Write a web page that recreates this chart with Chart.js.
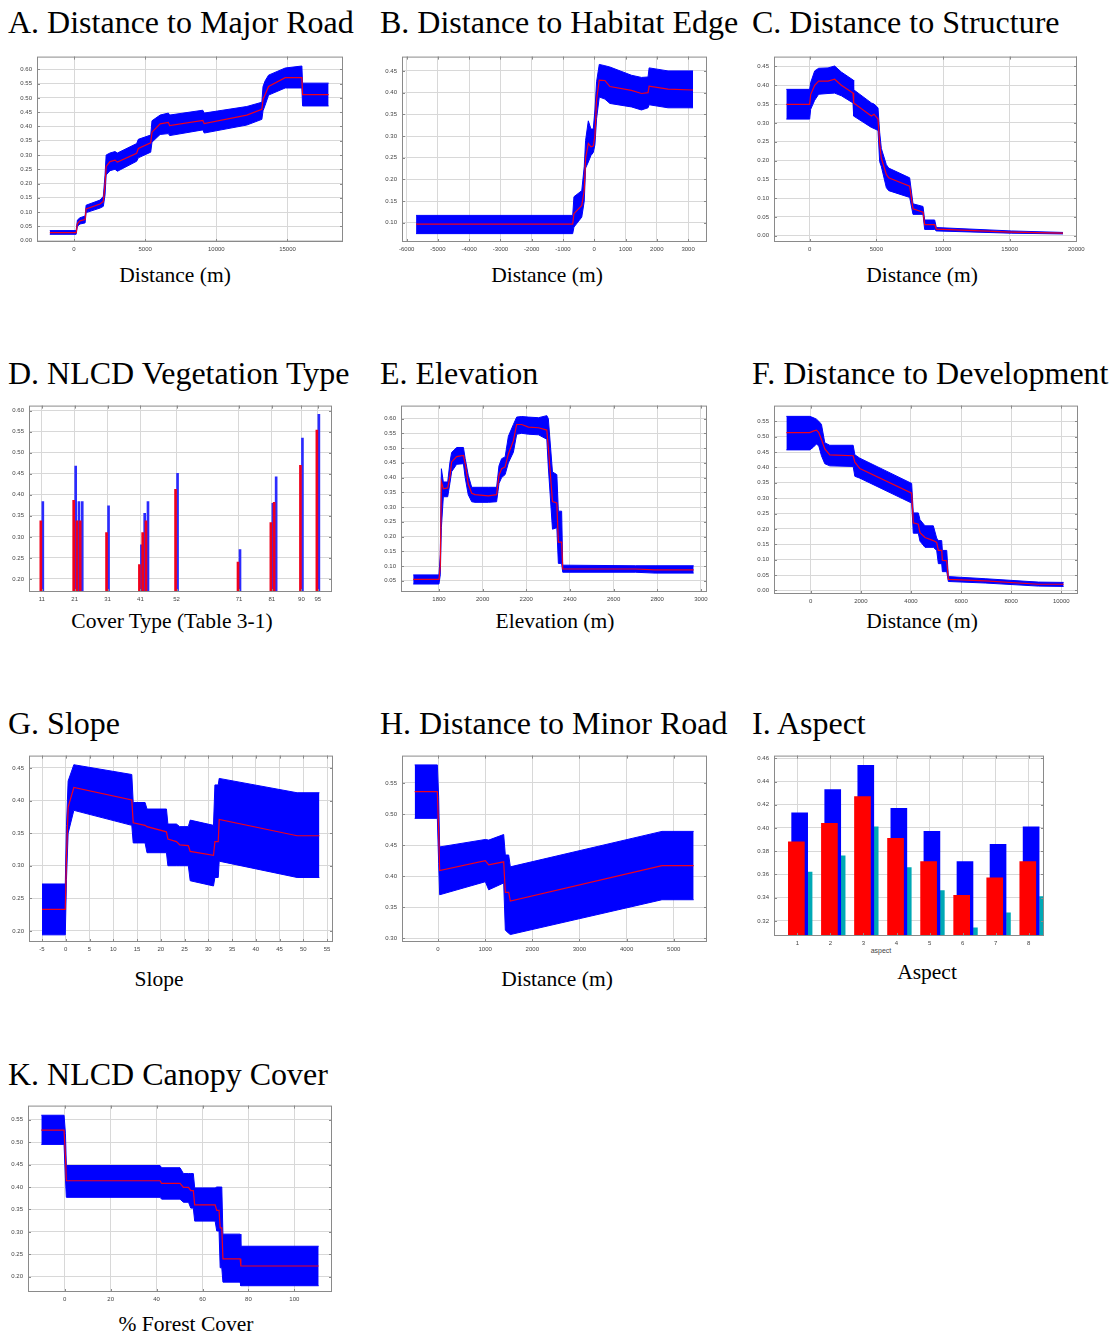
<!DOCTYPE html>
<html>
<head>
<meta charset="utf-8">
<script src="https://cdn.jsdelivr.net/npm/chart.js@4.4.1/dist/chart.umd.min.js"></script>
<style>
  body {
    margin: 0;
    background: #fff;
    width: 1115px;
    height: 1334px;
    position: relative;
    overflow: hidden;
    font-family: "Liberation Serif", "Times New Roman", serif;
    color: #000;
  }
  .title { position: absolute; font-size: 32px; line-height: 32px; white-space: nowrap; }
  .xlab { position: absolute; font-size: 21.5px; line-height: 21px; white-space: nowrap; transform: translateX(-50%); }
  .small { position: absolute; font: 7px "Liberation Sans", Arial, sans-serif; color: #444; transform: translateX(-50%); }
  canvas { position: absolute; }
</style>
</head>
<body>
<div class="title" style="left:8px;top:6px">A. Distance to Major Road</div>
<div class="title" style="left:380px;top:6px">B. Distance to Habitat Edge</div>
<div class="title" style="left:752px;top:6px">C. Distance to Structure</div>
<div class="title" style="left:8px;top:357px">D. NLCD Vegetation Type</div>
<div class="title" style="left:380px;top:357px">E. Elevation</div>
<div class="title" style="left:752px;top:357px">F. Distance to Development</div>
<div class="title" style="left:8px;top:707px">G. Slope</div>
<div class="title" style="left:380px;top:707px">H. Distance to Minor Road</div>
<div class="title" style="left:752px;top:707px">I. Aspect</div>
<div class="title" style="left:8px;top:1058px">K. NLCD Canopy Cover</div>

<div class="xlab" style="left:175px;top:265px">Distance (m)</div>
<div class="xlab" style="left:547px;top:265px">Distance (m)</div>
<div class="xlab" style="left:922px;top:265px">Distance (m)</div>
<div class="xlab" style="left:172px;top:611px">Cover Type (Table 3-1)</div>
<div class="xlab" style="left:555px;top:611px">Elevation (m)</div>
<div class="xlab" style="left:922px;top:611px">Distance (m)</div>
<div class="xlab" style="left:159px;top:969px">Slope</div>
<div class="xlab" style="left:557px;top:969px">Distance (m)</div>
<div class="xlab" style="left:927px;top:962px">Aspect</div>
<div class="xlab" style="left:186px;top:1314px">% Forest Cover</div>
<div class="small" style="left:881px;top:947px">aspect</div>

<script>
// A. distance to major road
const A_X = [-1700, 150, 240, 420, 780, 850, 1830, 2060, 2180, 2260, 2530, 2880, 3050, 4400, 4520, 5390, 5480, 6050, 6630, 6720, 9050, 9150, 12140, 13200, 13280, 13430, 13670, 14840, 16010, 16060, 17890];
const A_MEAN = [0.028, 0.028, 0.060, 0.069, 0.074, 0.111, 0.128, 0.137, 0.197, 0.260, 0.277, 0.282, 0.275, 0.306, 0.323, 0.343, 0.380, 0.409, 0.414, 0.403, 0.421, 0.410, 0.440, 0.460, 0.495, 0.512, 0.540, 0.571, 0.571, 0.512, 0.512];
const A_LO = [0.022, 0.022, 0.050, 0.058, 0.062, 0.098, 0.114, 0.120, 0.160, 0.230, 0.245, 0.250, 0.243, 0.278, 0.290, 0.310, 0.345, 0.372, 0.375, 0.368, 0.388, 0.377, 0.405, 0.425, 0.455, 0.475, 0.510, 0.535, 0.535, 0.472, 0.472];
const A_HI = [0.035, 0.035, 0.072, 0.080, 0.086, 0.124, 0.142, 0.155, 0.230, 0.300, 0.307, 0.312, 0.307, 0.340, 0.355, 0.370, 0.420, 0.440, 0.447, 0.440, 0.457, 0.447, 0.470, 0.485, 0.540, 0.560, 0.580, 0.605, 0.612, 0.552, 0.552];
const A_XTICKS = [0, 5000, 10000, 15000];
const A_YTICKS = [0, 0.05, 0.1, 0.15, 0.2, 0.25, 0.3, 0.35, 0.4, 0.45, 0.5, 0.55, 0.6];

// B. distance to habitat edge
const B_X = [-5700, -690, -650, -400, -320, -277, -190, -106, -32, 21, 74, 160, 340, 500, 1190, 1510, 1720, 1755, 2360, 3160];
const B_MEAN = [0.097, 0.097, 0.121, 0.140, 0.175, 0.249, 0.283, 0.275, 0.277, 0.300, 0.384, 0.429, 0.428, 0.414, 0.405, 0.398, 0.400, 0.415, 0.408, 0.406];
const B_LO = [0.075, 0.075, 0.090, 0.113, 0.150, 0.226, 0.240, 0.255, 0.262, 0.280, 0.340, 0.390, 0.385, 0.375, 0.367, 0.360, 0.365, 0.372, 0.365, 0.365];
const B_HI = [0.117, 0.117, 0.160, 0.174, 0.230, 0.290, 0.335, 0.316, 0.316, 0.360, 0.425, 0.465, 0.462, 0.459, 0.440, 0.435, 0.436, 0.457, 0.450, 0.450];
const B_XTICKS = [-6000, -5000, -4000, -3000, -2000, -1000, 0, 1000, 2000, 3000];
const B_YTICKS = [0.1, 0.15, 0.2, 0.25, 0.3, 0.35, 0.4, 0.45];

// C. distance to structure
const C_X = [-1750, 0, 75, 375, 675, 1375, 1875, 2375, 3250, 3300, 4625, 4825, 5125, 5250, 5375, 5750, 5925, 7500, 7750, 8500, 8625, 9375, 9500, 15125, 19000];
const C_MEAN = [0.349, 0.349, 0.375, 0.400, 0.411, 0.411, 0.416, 0.400, 0.379, 0.353, 0.318, 0.323, 0.310, 0.245, 0.206, 0.163, 0.154, 0.132, 0.072, 0.063, 0.030, 0.030, 0.018, 0.010, 0.007];
const C_LO = [0.310, 0.310, 0.336, 0.360, 0.376, 0.378, 0.379, 0.372, 0.353, 0.318, 0.288, 0.285, 0.280, 0.197, 0.184, 0.128, 0.120, 0.102, 0.057, 0.057, 0.017, 0.017, 0.013, 0.007, 0.005];
const C_HI = [0.389, 0.389, 0.407, 0.438, 0.445, 0.446, 0.451, 0.435, 0.414, 0.388, 0.353, 0.350, 0.340, 0.275, 0.232, 0.189, 0.180, 0.154, 0.085, 0.078, 0.042, 0.042, 0.022, 0.013, 0.009];
const C_XTICKS = [0, 5000, 10000, 15000, 20000];
const C_YTICKS = [0, 0.05, 0.1, 0.15, 0.2, 0.25, 0.3, 0.35, 0.4, 0.45];

// D. NLCD vegetation type (bars)
const D_CODES = [11, 21, 22, 23, 31, 41, 42, 43, 52, 71, 81, 82, 90, 95];
const D_MEAN = [0.338, 0.387, 0.338, 0.338, 0.310, 0.234, 0.310, 0.338, 0.413, 0.240, 0.334, 0.382, 0.470, 0.554];
const D_UPPER = [0.384, 0.468, 0.384, 0.384, 0.374, 0.281, 0.356, 0.384, 0.451, 0.270, 0.380, 0.443, 0.535, 0.591];
const D_XTICKS = [11, 21, 31, 41, 52, 71, 81, 90, 95];
const D_YTICKS = [0.2, 0.25, 0.3, 0.35, 0.4, 0.45, 0.5, 0.55, 0.6];

// E. elevation
const E_X = [1682, 1800, 1806, 1811, 1820, 1840, 1850, 1858, 1881, 1912, 1920, 1934, 1950, 1965, 2026, 2064, 2075, 2087, 2103, 2118, 2141, 2156, 2179, 2210, 2256, 2294, 2301, 2320, 2340, 2347, 2362, 2367, 2700, 2790, 2967];
const E_MEAN = [0.055, 0.055, 0.100, 0.386, 0.362, 0.365, 0.403, 0.453, 0.471, 0.475, 0.447, 0.378, 0.347, 0.342, 0.338, 0.342, 0.408, 0.430, 0.436, 0.480, 0.525, 0.580, 0.580, 0.571, 0.569, 0.561, 0.502, 0.319, 0.314, 0.181, 0.181, 0.090, 0.090, 0.087, 0.087];
const E_LO = [0.039, 0.039, 0.070, 0.230, 0.335, 0.335, 0.380, 0.420, 0.445, 0.447, 0.400, 0.342, 0.318, 0.316, 0.316, 0.318, 0.380, 0.400, 0.410, 0.450, 0.486, 0.547, 0.550, 0.547, 0.545, 0.530, 0.436, 0.225, 0.230, 0.109, 0.109, 0.079, 0.079, 0.076, 0.076];
const E_HI = [0.070, 0.070, 0.140, 0.430, 0.385, 0.385, 0.450, 0.485, 0.502, 0.502, 0.465, 0.408, 0.367, 0.367, 0.367, 0.367, 0.440, 0.464, 0.470, 0.540, 0.580, 0.605, 0.607, 0.605, 0.603, 0.610, 0.600, 0.419, 0.410, 0.286, 0.286, 0.103, 0.101, 0.101, 0.101];
const E_XTICKS = [1800, 2000, 2200, 2400, 2600, 2800, 3000];
const E_YTICKS = [0.05, 0.1, 0.15, 0.2, 0.25, 0.3, 0.35, 0.4, 0.45, 0.5, 0.55, 0.6];

// F. distance to development
const F_X = [-973, -40, 93, 227, 320, 427, 560, 760, 1693, 1760, 1960, 4027, 4093, 4293, 4360, 4560, 4893, 5027, 5093, 5227, 5253, 5427, 5493, 6960, 9093, 10093];
const F_MEAN = [0.513, 0.513, 0.518, 0.521, 0.513, 0.491, 0.460, 0.441, 0.438, 0.417, 0.396, 0.316, 0.220, 0.215, 0.188, 0.172, 0.162, 0.156, 0.130, 0.130, 0.098, 0.096, 0.036, 0.031, 0.020, 0.020];
const F_LO = [0.457, 0.457, 0.465, 0.476, 0.470, 0.438, 0.412, 0.405, 0.403, 0.371, 0.365, 0.284, 0.186, 0.186, 0.160, 0.140, 0.140, 0.130, 0.087, 0.087, 0.061, 0.061, 0.029, 0.024, 0.014, 0.013];
const F_HI = [0.566, 0.566, 0.562, 0.557, 0.550, 0.540, 0.480, 0.472, 0.472, 0.441, 0.430, 0.348, 0.252, 0.252, 0.230, 0.210, 0.210, 0.170, 0.162, 0.162, 0.130, 0.130, 0.045, 0.038, 0.027, 0.026];
const F_XTICKS = [0, 2000, 4000, 6000, 8000, 10000];
const F_YTICKS = [0, 0.05, 0.1, 0.15, 0.2, 0.25, 0.3, 0.35, 0.4, 0.45, 0.5, 0.55];

// G. slope
const G_X = [-5, -0.1, 0.15, 0.5, 1.7, 13.9, 14.2, 16.7, 17.1, 21.2, 21.5, 23.3, 24.0, 25.8, 26.2, 31.1, 31.4, 32.1, 32.3, 48.7, 53.4];
const G_MEAN = [0.233, 0.233, 0.314, 0.390, 0.420, 0.401, 0.366, 0.362, 0.360, 0.352, 0.341, 0.337, 0.332, 0.331, 0.322, 0.316, 0.337, 0.337, 0.371, 0.346, 0.346];
const G_LO = [0.194, 0.194, 0.279, 0.350, 0.385, 0.362, 0.335, 0.335, 0.320, 0.320, 0.300, 0.300, 0.300, 0.300, 0.277, 0.269, 0.282, 0.282, 0.307, 0.282, 0.282];
const G_HI = [0.272, 0.272, 0.362, 0.430, 0.455, 0.440, 0.397, 0.397, 0.387, 0.387, 0.364, 0.364, 0.360, 0.360, 0.370, 0.362, 0.424, 0.424, 0.434, 0.412, 0.412];
const G_XTICKS = [-5, 0, 5, 10, 15, 20, 25, 30, 35, 40, 45, 50, 55];
const G_YTICKS = [0.2, 0.25, 0.3, 0.35, 0.4, 0.45];

// H. distance to minor road
const H_X = [-495, -14, 14, 35, 1004, 1075, 1393, 1428, 1499, 1534, 4751, 5423];
const H_MEAN = [0.536, 0.536, 0.470, 0.409, 0.425, 0.418, 0.423, 0.374, 0.374, 0.360, 0.417, 0.417];
const H_LO = [0.493, 0.493, 0.420, 0.370, 0.391, 0.378, 0.389, 0.313, 0.308, 0.306, 0.362, 0.362];
const H_HI = [0.579, 0.579, 0.526, 0.447, 0.459, 0.458, 0.467, 0.434, 0.434, 0.415, 0.472, 0.472];
const H_XTICKS = [0, 1000, 2000, 3000, 4000, 5000];
const H_YTICKS = [0.3, 0.35, 0.4, 0.45, 0.5, 0.55];

// I. aspect (bars)
const I_ASPECT = [1, 2, 3, 4, 5, 6, 7, 8];
const I_UPPER = [0.413, 0.433, 0.454, 0.417, 0.397, 0.371, 0.386, 0.401];
const I_MEAN = [0.388, 0.404, 0.427, 0.391, 0.371, 0.342, 0.357, 0.371];
const I_LOWER = [0.362, 0.376, 0.401, 0.366, 0.346, 0.314, 0.327, 0.341];
const I_XTICKS = [1, 2, 3, 4, 5, 6, 7, 8];
const I_YTICKS = [0.32, 0.34, 0.36, 0.38, 0.4, 0.42, 0.44, 0.46];

// K. NLCD canopy cover
const K_X = [-10.2, -0.3, 0.3, 0.7, 41.5, 42.2, 50.2, 51.7, 53.9, 54.9, 56.0, 56.6, 65.5, 66.2, 67.2, 67.7, 68.4, 68.9, 76.4, 76.7, 110.6];
const K_MEAN = [0.527, 0.527, 0.470, 0.414, 0.414, 0.408, 0.408, 0.399, 0.399, 0.392, 0.392, 0.360, 0.360, 0.348, 0.348, 0.309, 0.309, 0.240, 0.240, 0.224, 0.224];
const K_LO = [0.495, 0.495, 0.420, 0.377, 0.377, 0.373, 0.373, 0.366, 0.366, 0.353, 0.353, 0.324, 0.324, 0.302, 0.302, 0.220, 0.220, 0.188, 0.188, 0.180, 0.180];
const K_HI = [0.560, 0.560, 0.520, 0.448, 0.448, 0.443, 0.443, 0.430, 0.430, 0.430, 0.430, 0.398, 0.398, 0.400, 0.400, 0.400, 0.400, 0.295, 0.295, 0.268, 0.268];
const K_XTICKS = [0, 20, 40, 60, 80, 100];
const K_YTICKS = [0.2, 0.25, 0.3, 0.35, 0.4, 0.45, 0.5, 0.55];

const BLUE = "#0000ff";
const RED = "#f0001c";
const CYAN = "#00a9b5";

// plot boxes on the page, px
const PAD_L = 40, PAD_T = 5, PAD_R = 14, AX_H = 16;

function makeCanvas(box) {
  const c = document.createElement("canvas");
  c.width = box.r - box.l + PAD_L + PAD_R;
  c.height = box.b - box.t + PAD_T + AX_H;
  c.style.left = box.l - PAD_L + "px";
  c.style.top = box.t - PAD_T + "px";
  document.body.appendChild(c);
  return c;
}

// matlab style box with little inner tick marks
const framePlugin = {
  id: "frame",
  afterDraw(chart) {
    const { ctx, chartArea: a, scales } = chart;
    ctx.save();
    ctx.strokeStyle = "#8a8a8a";
    ctx.lineWidth = 1;
    ctx.strokeRect(a.left + 0.5, a.top + 0.5, a.right - a.left - 1, a.bottom - a.top - 1);
    ctx.beginPath();
    scales.x.ticks.forEach((t) => {
      const x = Math.round(scales.x.getPixelForValue(t.value)) + 0.5;
      ctx.moveTo(x, a.bottom); ctx.lineTo(x, a.bottom - 3);
      ctx.moveTo(x, a.top); ctx.lineTo(x, a.top + 3);
    });
    scales.y.ticks.forEach((t) => {
      const y = Math.round(scales.y.getPixelForValue(t.value)) + 0.5;
      ctx.moveTo(a.left, y); ctx.lineTo(a.left + 3, y);
      ctx.moveTo(a.right, y); ctx.lineTo(a.right - 3, y);
    });
    ctx.stroke();
    ctx.restore();
  },
};

const tickFont = { family: "'Liberation Sans', Arial, sans-serif", size: 6 };

function axes(xr, yr, xticks, yticks) {
  return {
    x: {
      type: "linear", min: xr[0], max: xr[1], offset: false,
      afterBuildTicks: (s) => { s.ticks = xticks.map((v) => ({ value: v })); },
      afterFit: (s) => { s.height = AX_H; },
      grid: { color: "#d8d8d8", drawTicks: false, offset: false },
      border: { display: false },
      ticks: { font: tickFont, color: "#444", padding: 4, maxRotation: 0, autoSkip: false, callback: (v) => String(v) },
    },
    y: {
      type: "linear", min: yr[0], max: yr[1], beginAtZero: false,
      afterBuildTicks: (s) => { s.ticks = yticks.map((v) => ({ value: v })); },
      afterFit: (s) => { s.width = PAD_L; },
      grid: { color: "#d8d8d8", drawTicks: false },
      border: { display: false },
      ticks: { font: tickFont, color: "#444", padding: 5, autoSkip: false, callback: (v) => v.toFixed(2) },
    },
  };
}

function baseOptions(xr, yr, xticks, yticks) {
  return {
    responsive: false,
    animation: false,
    events: [],
    layout: { padding: { left: 0, top: PAD_T, right: PAD_R, bottom: 0 } },
    plugins: { legend: { display: false }, tooltip: { enabled: false } },
    scales: axes(xr, yr, xticks, yticks),
  };
}

function bandChart(box, X, MEAN, LO, HI, xr, yr, xticks, yticks) {
  const pts = (ys) => X.map((x, i) => ({ x, y: ys[i] }));
  new Chart(makeCanvas(box), {
    type: "line",
    data: {
      datasets: [
        { data: pts(LO), borderColor: BLUE, borderWidth: 1, pointRadius: 0, fill: false, order: 3 },
        { data: pts(HI), borderColor: BLUE, borderWidth: 1, pointRadius: 0, fill: "-1", backgroundColor: BLUE, order: 2 },
        { data: pts(MEAN), borderColor: RED, borderWidth: 1.2, pointRadius: 0, fill: false, order: 1 },
      ],
    },
    options: baseOptions(xr, yr, xticks, yticks),
    plugins: [framePlugin],
  });
}

bandChart({ l: 37, t: 53, r: 343, b: 242 }, A_X, A_MEAN, A_LO, A_HI, [-2600, 18900], [-0.005, 0.645], A_XTICKS, A_YTICKS);
bandChart({ l: 402, t: 53, r: 707, b: 242 }, B_X, B_MEAN, B_LO, B_HI, [-6150, 3606], [0.0557, 0.483], B_XTICKS, B_YTICKS);
bandChart({ l: 774, t: 53, r: 1077, b: 242 }, C_X, C_MEAN, C_LO, C_HI, [-2675, 20050], [-0.0164, 0.476], C_XTICKS, C_YTICKS);
bandChart({ l: 401, t: 402, r: 707, b: 592 }, E_X, E_MEAN, E_LO, E_HI, [1626, 3028], [0.012, 0.644], E_XTICKS, E_YTICKS);
bandChart({ l: 774, t: 402, r: 1078, b: 594 }, F_X, F_MEAN, F_LO, F_HI, [-1467, 10667], [-0.0117, 0.601], F_XTICKS, F_YTICKS);
bandChart({ l: 29, t: 752, r: 333, b: 942 }, G_X, G_MEAN, G_LO, G_HI, [-7.74, 56.26], [0.183, 0.469], G_XTICKS, G_YTICKS);
bandChart({ l: 402, t: 752, r: 707, b: 942 }, H_X, H_MEAN, H_LO, H_HI, [-764, 5706], [0.294, 0.594], H_XTICKS, H_YTICKS);
bandChart({ l: 28, t: 1102, r: 332, b: 1292 }, K_X, K_MEAN, K_LO, K_HI, [-16, 116.4], [0.166, 0.5815], K_XTICKS, K_YTICKS);

// D: thin red (mean) and blue (upper) bars per cover code
new Chart(makeCanvas({ l: 29, t: 402, r: 332, b: 592 }), {
  type: "bar",
  data: {
    datasets: [
      { data: D_CODES.map((x, i) => ({ x, y: D_MEAN[i] })), backgroundColor: RED, barThickness: 2 },
      { data: D_CODES.map((x, i) => ({ x, y: D_UPPER[i] })), backgroundColor: "#2b2bff", barThickness: 2 },
    ],
  },
  options: baseOptions([7.1, 99.3], [0.169, 0.612], D_XTICKS, D_YTICKS),
  plugins: [framePlugin],
});

// I: overlapping wide bars, shifted a little inside each aspect class
const iOpts = baseOptions([0.294, 8.46], [0.307, 0.4623], I_XTICKS, I_YTICKS);
new Chart(makeCanvas({ l: 774, t: 752, r: 1044, b: 936 }), {
  type: "bar",
  data: {
    datasets: [
      { data: I_ASPECT.map((a, i) => ({ x: a - 0.03, y: I_MEAN[i] })), backgroundColor: "#ff0000", barThickness: 16, grouped: false, order: 1 },
      { data: I_ASPECT.map((a, i) => ({ x: a + 0.07, y: I_UPPER[i] })), backgroundColor: BLUE, barThickness: 16, grouped: false, order: 2 },
      { data: I_ASPECT.map((a, i) => ({ x: a + 0.385, y: I_LOWER[i] })), backgroundColor: CYAN, barThickness: 4, grouped: false, order: 3 },
    ],
  },
  options: iOpts,
  plugins: [framePlugin],
});
</script>
</body>
</html>
